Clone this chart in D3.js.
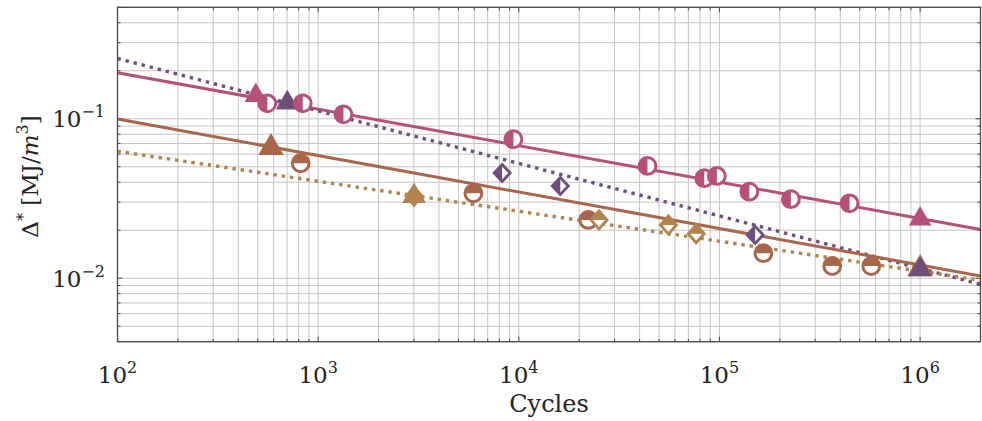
<!DOCTYPE html>
<html>
<head>
<meta charset="utf-8">
<script src="https://cdn.jsdelivr.net/npm/d3@7"></script>
<style>
  html, body { margin: 0; padding: 0; background: #fff; }
  svg { display: block; }
  text { font-family: "DejaVu Serif", "Liberation Serif", serif; fill: #222; }
</style>
</head>
<body>
<svg id="chart" width="982" height="421"></svg>
<script>
// ---------------- data ----------------
const xTickValues = [1e2, 1e3, 1e4, 1e5, 1e6];
const xTickExponents = ["2", "3", "4", "5", "6"];
const yTickValues = [1e-2, 1e-1];
const yTickExponents = ["\u22122", "\u22121"];

// fitted power-law lines (endpoints at axis limits)
const pinkFitX = [1e2, 2e6];
const pinkFitY = [0.1945, 0.0202];
const purpleFitX = [1e2, 2e6];
const purpleFitY = [0.239, 0.00917];
const brownFitX = [1e2, 2e6];
const brownFitY = [0.0996, 0.01033];
const tanFitX = [1e2, 2e6];
const tanFitY = [0.0625, 0.00972];

// pink series
const pinkTriX = [489, 1e6];
const pinkTriY = [0.1398, 0.0235];
const pinkCircX = [558, 838, 1337, 9400, 43800, 84000, 97000, 141000, 227000, 445000];
const pinkCircY = [0.125, 0.125, 0.1067, 0.0744, 0.0506, 0.0424, 0.0438, 0.0349, 0.0313, 0.0295];

// purple series
const purpleTriX = [702, 1e6];
const purpleTriY = [0.1258, 0.01133];
const purpleDiaX = [8260, 16100, 150600];
const purpleDiaY = [0.0457, 0.0379, 0.0187];

// brown series
const brownTriX = [582, 1e6];
const brownTriY = [0.0658, 0.01145];
const brownCircX = [818, 5940, 22200, 165600, 365000, 571000];
const brownCircY = [0.0526, 0.0341, 0.0232, 0.01436, 0.01193, 0.01193];

// tan series
const tanTriX = [3007];
const tanTriY = [0.0327];
const tanDiaX = [3007, 25100, 55700, 76600];
const tanDiaY = [0.0327, 0.0232, 0.0216, 0.019];

// ---------------- styles ----------------
const C = {
  pink: "#b5507b",
  purple: "#6d4e7c",
  brown: "#a8664a",
  tan: "#b0844c",
  grid: "#c4c4c4",
  frame: "#4a4a4a"
};

const svg = d3.select("#chart");
const L = 117.5, R = 980.5, T = 7.3, B = 341.7;

const x = d3.scaleLog().domain([1e2, 2e6]).range([L, R]);
const y = d3.scaleLog().domain([0.004, 0.5]).range([B, T]);

const xGrid = [];
for (let e = 2; e <= 6; e++) for (let k = 1; k <= 9; k++) {
  const v = k * Math.pow(10, e);
  if (v >= 1e2 && v <= 2e6) xGrid.push(v);
}
const yGrid = [];
for (let e = -3; e <= -1; e++) for (let k = 1; k <= 9; k++) {
  const v = k * Math.pow(10, e);
  if (v >= 0.004 && v <= 0.5) yGrid.push(v);
}

const defs = svg.append("defs");
defs.append("clipPath").attr("id", "plotclip")
  .append("rect").attr("x", L).attr("y", T).attr("width", R - L).attr("height", B - T);

const gGrid = svg.append("g");
gGrid.selectAll("line.vx").data(xGrid).enter().append("line")
  .attr("x1", d => x(d)).attr("x2", d => x(d)).attr("y1", T).attr("y2", B)
  .attr("stroke", C.grid).attr("stroke-width", 1);
gGrid.selectAll("line.hy").data(yGrid).enter().append("line")
  .attr("y1", d => y(d)).attr("y2", d => y(d)).attr("x1", L).attr("x2", R)
  .attr("stroke", C.grid).attr("stroke-width", 1);

const gTicks = svg.append("g").attr("stroke", C.frame).attr("stroke-width", 1);
const isMajor = v => Math.abs(Math.log10(v) - Math.round(Math.log10(v))) < 1e-9;
xGrid.forEach(v => {
  const len = isMajor(v) ? 5 : 3;
  gTicks.append("line").attr("x1", x(v)).attr("x2", x(v)).attr("y1", B).attr("y2", B - len);
  gTicks.append("line").attr("x1", x(v)).attr("x2", x(v)).attr("y1", T).attr("y2", T + len);
});
yGrid.forEach(v => {
  const len = isMajor(v) ? 5 : 3;
  gTicks.append("line").attr("y1", y(v)).attr("y2", y(v)).attr("x1", L).attr("x2", L + len);
  gTicks.append("line").attr("y1", y(v)).attr("y2", y(v)).attr("x1", R).attr("x2", R - len);
});

// ---------------- lines ----------------
const gLines = svg.append("g").attr("clip-path", "url(#plotclip)");
const lineGen = d3.line().x(d => x(d[0])).y(d => y(d[1]));
function fit(xs, ys, color, dotted) {
  const pts = xs.map((v, i) => [v, ys[i]]);
  const p = gLines.append("path").attr("d", lineGen(pts))
    .attr("fill", "none").attr("stroke", color);
  if (dotted) p.attr("stroke-width", 3.4).attr("stroke-dasharray", "3.4 4.9");
  else p.attr("stroke-width", 3);
}
fit(pinkFitX, pinkFitY, C.pink, false);
fit(purpleFitX, purpleFitY, C.purple, true);
fit(brownFitX, brownFitY, C.brown, false);
fit(tanFitX, tanFitY, C.tan, true);

// ---------------- markers ----------------
const gM = svg.append("g");
function triangles(xs, ys, color, r) {
  r = r || 12;
  xs.forEach((v, i) => {
    const cx = x(v), cy = y(ys[i]);
    const hw = r * Math.sqrt(3) / 2;
    gM.append("path")
      .attr("d", `M${cx},${cy - r}L${cx + hw},${cy + r / 2}L${cx - hw},${cy + r / 2}Z`)
      .attr("fill", color).attr("stroke", color).attr("stroke-width", 1.2).attr("stroke-linejoin", "miter");
  });
}
function halfCircles(xs, ys, color, half) {
  const r = 8.4;
  xs.forEach((v, i) => {
    const cx = x(v), cy = y(ys[i]);
    const g = gM.append("g").attr("transform", `translate(${cx},${cy})`);
    g.append("circle").attr("r", r).attr("fill", "#fff");
    const d = half === "left"
      ? `M0,${-r}A${r},${r} 0 0 0 0,${r}Z`
      : `M${-r},0A${r},${r} 0 0 1 ${r},0Z`;
    g.append("path").attr("d", d).attr("fill", color);
    g.append("circle").attr("r", r).attr("fill", "none").attr("stroke", color).attr("stroke-width", 3);
  });
}
function halfDiamonds(xs, ys, color, half, w, h) {
  xs.forEach((v, i) => {
    const cx = x(v), cy = y(ys[i]);
    const g = gM.append("g").attr("transform", `translate(${cx},${cy})`);
    const full = `M0,${-h}L${w},0L0,${h}L${-w},0Z`;
    g.append("path").attr("d", full).attr("fill", "#fff");
    const d = half === "left"
      ? `M0,${-h}L${-w},0L0,${h}Z`
      : `M${-w},0L0,${-h}L${w},0Z`;
    g.append("path").attr("d", d).attr("fill", color);
    g.append("path").attr("d", full).attr("fill", "none").attr("stroke", color)
      .attr("stroke-width", 2.8).attr("stroke-linejoin", "miter");
  });
}

halfCircles(brownCircX, brownCircY, C.brown, "top");
triangles(brownTriX, brownTriY, C.brown, 13.5);
halfDiamonds(tanDiaX, tanDiaY, C.tan, "top", 8, 9);
triangles(tanTriX, tanTriY, C.tan, 12.5);
triangles(purpleTriX, purpleTriY, C.purple, 12);
halfDiamonds(purpleDiaX, purpleDiaY, C.purple, "left", 8, 8.5);
triangles(pinkTriX, pinkTriY, C.pink, 11.8);
halfCircles(pinkCircX, pinkCircY, C.pink, "left");

// ---------------- frame ----------------
svg.append("rect").attr("x", L).attr("y", T).attr("width", R - L).attr("height", B - T)
  .attr("fill", "none").attr("stroke", C.frame).attr("stroke-width", 1.3);

// ---------------- tick labels ----------------
const gXL = svg.append("g");
xTickValues.forEach((v, i) => {
  const t = gXL.append("text").attr("x", x(v)).attr("y", 383)
    .attr("text-anchor", "middle").attr("font-size", 23);
  t.append("tspan").text("10");
  t.append("tspan").attr("dy", -10).attr("font-size", 16).text(xTickExponents[i]);
});
const gYL = svg.append("g");
yTickValues.forEach((v, i) => {
  const t = gYL.append("text").attr("x", 105).attr("y", y(v) + 8.5)
    .attr("text-anchor", "end").attr("font-size", 23);
  t.append("tspan").text("10");
  t.append("tspan").attr("dy", -10).attr("font-size", 16).text(yTickExponents[i]);
});

// ---------------- axis titles ----------------
svg.append("text").attr("x", (L + R) / 2).attr("y", 412)
  .attr("text-anchor", "middle").attr("font-size", 24).text("Cycles");

const yl = svg.append("text").attr("transform", `translate(38,${(T + B) / 2 + 2}) rotate(-90)`)
  .attr("text-anchor", "middle").attr("font-size", 23);
yl.append("tspan").text("\u0394");
yl.append("tspan").attr("dy", -9).attr("font-size", 16).text("*");
yl.append("tspan").attr("dy", 9).text(" [MJ/");
yl.append("tspan").attr("font-style", "italic").text("m");
yl.append("tspan").attr("dy", -10).attr("font-size", 16).text("3");
yl.append("tspan").attr("dy", 10).text("]");
</script>
</body>
</html>
